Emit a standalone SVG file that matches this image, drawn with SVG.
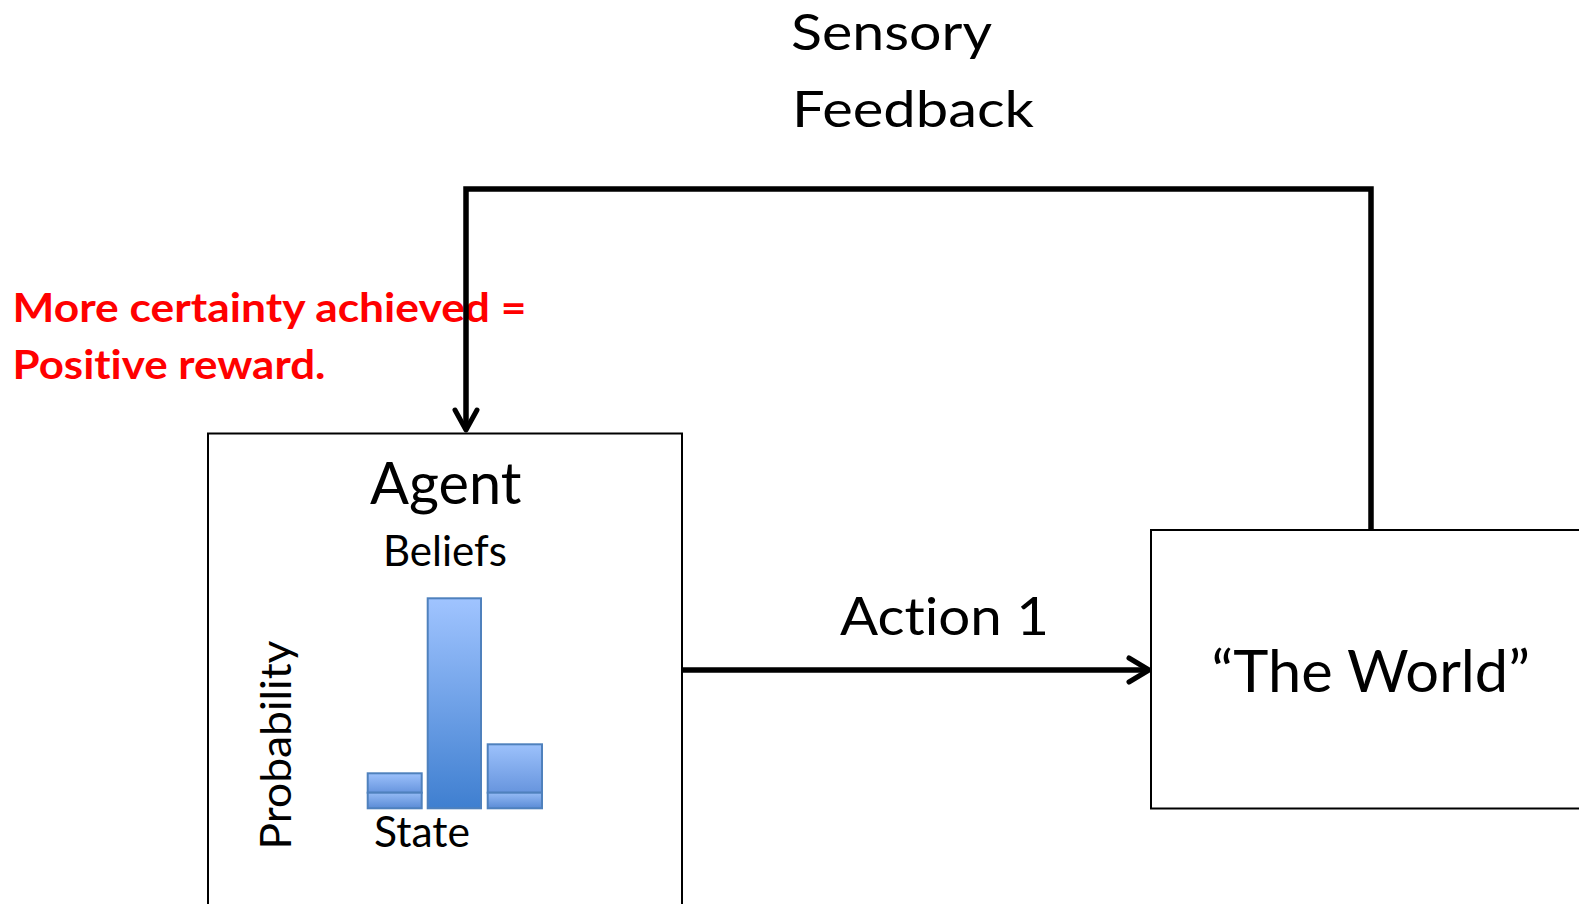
<svg xmlns="http://www.w3.org/2000/svg" width="1579" height="904" viewBox="0 0 1579 904">
  <style>
    text { font-variant-ligatures: none; }
    .lbl { font-family: Lato, "Liberation Sans", sans-serif; fill: #000; }
    .red { font-family: Lato, "Liberation Sans", sans-serif; font-weight: bold; fill: #ff0000; }
    .box { fill: #fff; stroke: #000; stroke-width: 2; }
    .wire { fill: none; stroke: #000; stroke-width: 5.5; }
    .head { fill: none; stroke: #000; stroke-width: 5; stroke-linecap: round; stroke-linejoin: round; }
    .bar { stroke: #4f81bd; stroke-width: 2; }
  </style>
  <defs>
    <linearGradient id="barFill" x1="0" y1="0" x2="0" y2="1">
      <stop offset="0" stop-color="#a0c4ff"/>
      <stop offset="1" stop-color="#3f7fd0"/>
    </linearGradient>
    <linearGradient id="barTop" x1="0" y1="0" x2="0" y2="1">
      <stop offset="0" stop-color="#9cc1fb"/>
      <stop offset="1" stop-color="#6795de"/>
    </linearGradient>
    <linearGradient id="barBase" x1="0" y1="0" x2="0" y2="1">
      <stop offset="0" stop-color="#95bbf5"/>
      <stop offset="1" stop-color="#5a8bd6"/>
    </linearGradient>
  </defs>

  <!-- heading over the feedback loop -->
  <text class="lbl" x="791" y="50" font-size="50" textLength="201" lengthAdjust="spacingAndGlyphs">Sensory</text>
  <text class="lbl" x="792" y="126.5" font-size="50" textLength="242" lengthAdjust="spacingAndGlyphs">Feedback</text>

  <!-- reward note -->
  <text class="red" x="12.5" y="322" font-size="41" textLength="514" lengthAdjust="spacingAndGlyphs">More certainty achieved =</text>
  <text class="red" x="12.5" y="378.5" font-size="41" textLength="313" lengthAdjust="spacingAndGlyphs">Positive reward.</text>

  <!-- connectors -->
  <g id="connectors">
    <path class="wire" d="M1371 530 V189 H466 V430"/>
    <path class="head" d="M455 410 L466 430 L477 410"/>
    <path class="wire" d="M682 670 H1147"/>
    <path class="head" d="M1129 658 L1149 670 L1129 682"/>
    <text class="lbl" x="840" y="635" font-size="53" textLength="209" lengthAdjust="spacingAndGlyphs">Action 1</text>
  </g>

  <!-- agent with its belief histogram -->
  <g id="agent">
    <rect class="box" x="208" y="433.5" width="474" height="480"/>
    <text class="lbl" x="370" y="503.5" font-size="59" textLength="151.5" lengthAdjust="spacingAndGlyphs">Agent</text>
    <text class="lbl" x="383" y="565.5" font-size="42" textLength="124" lengthAdjust="spacingAndGlyphs">Beliefs</text>
    <text class="lbl" transform="translate(291 849.5) rotate(-90)" font-size="43" textLength="209" lengthAdjust="spacingAndGlyphs">Probability</text>
    <text class="lbl" x="374" y="846.5" font-size="42" textLength="96" lengthAdjust="spacingAndGlyphs">State</text>
    <g id="histogram">
      <rect class="bar" x="367.7" y="773.3" width="54" height="19.4" fill="url(#barTop)"/>
      <rect class="bar" x="367.7" y="792.7" width="54" height="15.6" fill="url(#barBase)"/>
      <rect class="bar" x="427.7" y="598.3" width="53.3" height="210" fill="url(#barFill)"/>
      <rect class="bar" x="487.7" y="744.3" width="54.3" height="48.4" fill="url(#barTop)"/>
      <rect class="bar" x="487.7" y="792.7" width="54.3" height="15.6" fill="url(#barBase)"/>
    </g>
  </g>

  <!-- environment -->
  <g id="world">
    <rect class="box" x="1151" y="530" width="440" height="278.5"/>
    <text class="lbl" x="1211.5" y="691.5" font-size="59" textLength="318.5" lengthAdjust="spacingAndGlyphs">“The World”</text>
  </g>
</svg>
